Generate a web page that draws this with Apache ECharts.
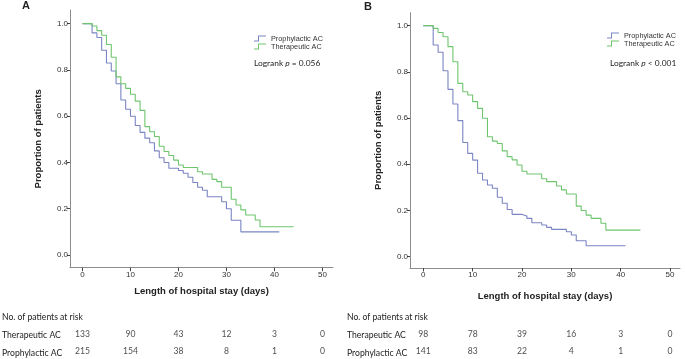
<!DOCTYPE html>
<html><head><meta charset="utf-8">
<script src="https://cdn.jsdelivr.net/npm/echarts@6/dist/echarts.min.js"></script>
<style>html,body{margin:0;padding:0;background:#fff}#c{width:685px;height:359px}</style>
</head><body><div id="c"></div>
<script>
// ---- data ----
const tickDays = [0, 10, 20, 30, 40, 50];
const tickProps = [0, 0.2, 0.4, 0.6, 0.8, 1.0];
const riskDays = [0, 10, 20, 30, 40, 50];
const groupNames = ['Prophylactic AC', 'Therapeutic AC'];
const rowNames = ['Prophylactic AC', 'Therapeutic AC'];

// Panel A (Kaplan-Meier steps: day, proportion after the step)
const aProDays  = [0, 2, 3, 4, 5, 6, 7, 8, 9, 10, 11, 12, 13, 14, 15, 16, 17, 18, 20, 21, 22, 23, 24, 25, 26, 29, 30, 31, 33, 41];
const aProVals  = [1.0, 0.96, 0.94, 0.885, 0.83, 0.795, 0.74, 0.67, 0.63, 0.60, 0.56, 0.53, 0.505, 0.485, 0.45, 0.42, 0.40, 0.375, 0.365, 0.353, 0.336, 0.313, 0.293, 0.28, 0.252, 0.23, 0.20, 0.15, 0.10, 0.10];
const aTherDays = [0, 2, 3, 4, 5, 6, 7, 8, 9, 10, 11, 12, 13, 14, 15, 16, 17, 18, 19, 20, 21, 24, 25, 27, 28, 29, 31, 32, 33, 34, 36, 37, 44];
const aTherVals = [1.0, 0.99, 0.97, 0.95, 0.91, 0.855, 0.77, 0.74, 0.72, 0.695, 0.665, 0.625, 0.555, 0.533, 0.512, 0.47, 0.447, 0.43, 0.41, 0.389, 0.378, 0.36, 0.35, 0.327, 0.317, 0.293, 0.241, 0.216, 0.195, 0.173, 0.151, 0.122, 0.122];

// Panel B
const bProDays  = [0, 2, 3, 4, 5, 6, 7, 8, 9, 10, 11, 12, 13, 14, 15, 16, 17, 18, 20, 21, 22, 24, 25, 26, 29, 30, 31, 33, 41];
const bProVals  = [1.0, 0.916, 0.885, 0.805, 0.724, 0.661, 0.589, 0.494, 0.447, 0.418, 0.361, 0.332, 0.31, 0.296, 0.257, 0.231, 0.204, 0.183, 0.176, 0.166, 0.147, 0.137, 0.127, 0.118, 0.108, 0.094, 0.069, 0.047, 0.047];
const bTherDays = [0, 2, 3, 4, 5, 6, 7, 8, 9, 10, 11, 12, 13, 14, 15, 16, 17, 18, 19, 20, 21, 24, 25, 27, 28, 29, 31, 32, 33, 34, 36, 37, 44];
const bTherVals = [1.0, 0.988, 0.97, 0.952, 0.909, 0.844, 0.75, 0.714, 0.70, 0.671, 0.642, 0.599, 0.519, 0.50, 0.49, 0.458, 0.433, 0.419, 0.397, 0.37, 0.358, 0.337, 0.325, 0.306, 0.289, 0.271, 0.219, 0.2, 0.18, 0.166, 0.145, 0.115, 0.115];

// Numbers at risk
const aRiskTher = [133, 90, 43, 12, 3, 0];
const aRiskPro  = [215, 154, 38, 8, 1, 0];
const bRiskTher = [98, 78, 39, 16, 3, 0];
const bRiskPro  = [141, 83, 22, 4, 1, 0];

const panelLetters = ['A', 'B'];
const pTexts = ['= 0.056', '< 0.001'];

// ---- styles ----
const BLUE = '#7b85c3';
const GREEN = '#6ec56e';
const AXIS = '#8c8c8c';
const SANS = 'Liberation Sans';
const CAL = 'Lato';
const CAL_SIZE = 8.6;

const zip = (xs, ys) => xs.map((x, i) => [x, ys[i]]);

const panels = [
  { grid: { left: 70, top: 10, width: 263, height: 257.7 }, xmin: -2.6, xmax: 52.2, ymin: -0.055, ymax: 1.059, nameGap: 19,
    risk: { left: 70, width: 263 } },
  { grid: { left: 410, top: 12.7, width: 270, height: 255.3 }, xmin: -2.7, xmax: 52.03, ymin: -0.049, ymax: 1.056, nameGap: 23,
    risk: { left: 410, width: 270 } }
];

const grids = [], xAxes = [], yAxes = [];
panels.forEach((p, i) => {
  grids.push(Object.assign({ containLabel: false }, p.grid));
  xAxes.push({
    gridIndex: i, type: 'value', min: p.xmin, max: p.xmax,
    axisLine: { show: true, onZero: false, lineStyle: { color: AXIS, width: 1 } },
    axisTick: { show: true, inside: false, length: 3.5, customValues: tickDays, lineStyle: { color: '#444', width: 1 } },
    axisLabel: { customValues: tickDays, fontSize: 8, color: '#333', margin: 3, fontFamily: SANS },
    splitLine: { show: false },
    name: 'Length of hospital stay (days)', nameLocation: 'middle', nameGap: p.nameGap,
    nameTextStyle: { fontWeight: 'bold', fontSize: 9.5, color: '#222', fontFamily: SANS }
  });
  yAxes.push({
    gridIndex: i, type: 'value', min: p.ymin, max: p.ymax,
    axisLine: { show: true, onZero: false, lineStyle: { color: AXIS, width: 1 } },
    axisTick: { show: true, inside: false, length: 3, customValues: tickProps, lineStyle: { color: '#444', width: 1 } },
    axisLabel: { customValues: tickProps, fontSize: 8, color: '#333', margin: 2, fontFamily: SANS,
      formatter: v => v.toFixed(1) },
    splitLine: { show: false },
    name: 'Proportion of patients', nameLocation: 'middle', nameGap: 27, nameRotate: 90,
    nameTextStyle: { fontWeight: 'bold', fontSize: 9.5, color: '#222', fontFamily: SANS }
  });
});
// risk-table grids share the x scale of the panels
panels.forEach((p, i) => {
  grids.push({ left: p.risk.left, width: p.risk.width, top: 326, height: 36.6 });
  xAxes.push({ gridIndex: 2 + i, type: 'value', min: p.xmin, max: p.xmax, show: false });
  yAxes.push({ gridIndex: 2 + i, type: 'category', data: rowNames, show: false });
});

const lineSeries = (name, xs, ys, color, idx) => ({
  name, type: 'line', step: 'end', xAxisIndex: idx, yAxisIndex: idx,
  data: zip(xs, ys), symbol: 'none', silent: true,
  lineStyle: { color, width: 1.1 }, itemStyle: { color }
});
const riskSeries = (row, vals, idx) => ({
  type: 'scatter', xAxisIndex: 2 + idx, yAxisIndex: 2 + idx, silent: true,
  symbolSize: 1, itemStyle: { color: 'rgba(0,0,0,0)' },
  data: riskDays.map((d, i) => [d, row, vals[i]]),
  label: { show: true, position: 'inside', formatter: q => String(q.value[2]),
    fontSize: CAL_SIZE, fontFamily: CAL, color: '#222' }
});

const series = [
  lineSeries(groupNames[0], aProDays, aProVals, BLUE, 0),
  lineSeries(groupNames[1], aTherDays, aTherVals, GREEN, 0),
  lineSeries(groupNames[0], bProDays, bProVals, BLUE, 1),
  lineSeries(groupNames[1], bTherDays, bTherVals, GREEN, 1),
  riskSeries(rowNames[1], aRiskTher, 0),
  riskSeries(rowNames[0], aRiskPro, 0),
  riskSeries(rowNames[1], bRiskTher, 1),
  riskSeries(rowNames[0], bRiskPro, 1)
];

const STEP_ICON = 'path://M0,5 L4,5 L4,0 L12,0 L12,1 L5,1 L5,6 L0,6 Z';
const legendFor = (left, top) => ({
  left, top, padding: 0, orient: 'vertical', itemGap: 0, itemWidth: 12, itemHeight: 6,
  icon: STEP_ICON, data: groupNames, selectedMode: false,
  itemStyle: { borderWidth: 0 },
  textStyle: { fontSize: 7.3, color: '#333', fontFamily: SANS, lineHeight: 8 }
});

const txt = (x, y, text, extra) => ({
  type: 'text', x, y, silent: true,
  style: Object.assign({ text, fill: '#222', fontFamily: CAL, fontSize: CAL_SIZE, verticalAlign: 'middle', align: 'left' }, extra || {})
});
const logrank = (x, y, pt) => ({
  type: 'text', x, y, silent: true,
  style: {
    text: '{n|Logrank }{i|p}{n| ' + pt + '}', verticalAlign: 'middle', align: 'left',
    rich: { n: { fontFamily: CAL, fontSize: 8.4, fill: '#222' }, i: { fontFamily: CAL, fontSize: 8.4, fontStyle: 'italic', fill: '#222' } }
  }
});

const graphic = [
  txt(22, 5.5, panelLetters[0], { fontFamily: SANS, fontWeight: 'bold', fontSize: 11 }),
  txt(364, 6.5, panelLetters[1], { fontFamily: SANS, fontWeight: 'bold', fontSize: 11 }),
  logrank(254, 63.5, pTexts[0]),
  logrank(610, 63.5, pTexts[1]),
  txt(2, 317, 'No. of patients at risk'),
  txt(2, 335.2, rowNames[1]),
  txt(2, 353.5, rowNames[0]),
  txt(347, 317, 'No. of patients at risk'),
  txt(347, 335.2, rowNames[1]),
  txt(347, 353.5, rowNames[0])
];

const chart = echarts.init(document.getElementById('c'), null, { renderer: 'canvas' });
chart.setOption({
  animation: false,
  backgroundColor: '#fff',
  textStyle: { fontFamily: SANS },
  grid: grids, xAxis: xAxes, yAxis: yAxes,
  legend: [legendFor(254, 34.5), legendFor(607, 31.5)],
  series, graphic
});
</script></body></html>
